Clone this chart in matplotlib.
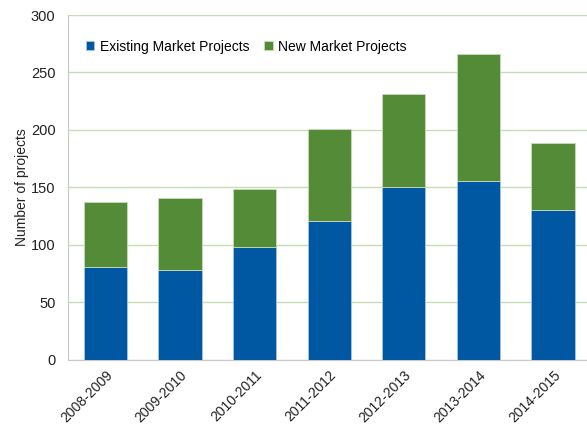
import matplotlib
matplotlib.use("Agg")
import matplotlib.pyplot as plt
import numpy as np

years = ["2008-2009", "2009-2010", "2010-2011", "2011-2012",
         "2012-2013", "2013-2014", "2014-2015"]
existing = [81, 78, 98, 121, 150, 156, 130]
totals = [137, 141, 149, 201, 231, 266, 189]
new = [t - e for t, e in zip(totals, existing)]

blue = "#0058a2"
green = "#548b37"

plt.rcParams["font.family"] = ["Liberation Sans", "DejaVu Sans"]

fig = plt.figure(figsize=(5.87, 4.25), dpi=100)
ax = fig.add_axes([0.1158, 0.153, 0.89, 0.8117])

x = np.arange(len(years))
ax.bar(x, existing, width=0.58, color=blue, edgecolor="#a9c4e0", linewidth=0.6,
       label="Existing Market Projects", zorder=3)
ax.bar(x, new, bottom=existing, width=0.58, color=green, edgecolor="#c9dbbd",
       linewidth=0.6, label="New Market Projects", zorder=3)

ax.set_xlim(-0.5, len(years) - 0.5)
ax.set_ylim(0, 300)
ax.set_yticks(range(0, 301, 50))
ax.yaxis.grid(True, color="#c6dcb6", linewidth=1.0, zorder=0)
ax.set_axisbelow(True)

for s in ["top", "right"]:
    ax.spines[s].set_visible(False)
ax.spines["left"].set_color("#c8c8c8")
ax.spines["bottom"].set_color("#c8c8c8")
ax.tick_params(axis="both", length=0, labelsize=10.5, colors="#222222")
ax.tick_params(axis="y", pad=9)
ax.tick_params(axis="x", pad=6)
ax.set_xticks(x)
ax.set_xticklabels(years, rotation=45, ha="right", rotation_mode="anchor",
                   fontsize=10)
ax.set_ylabel("Number of projects", fontsize=10, color="#222222", labelpad=1)

ax.legend(loc="upper left", bbox_to_anchor=(0.01, 0.965), ncol=2, frameon=False,
          fontsize=10, handlelength=0.6, handleheight=0.6, handletextpad=0.4,
          columnspacing=1.1)

fig.savefig("out.png", dpi=100)
